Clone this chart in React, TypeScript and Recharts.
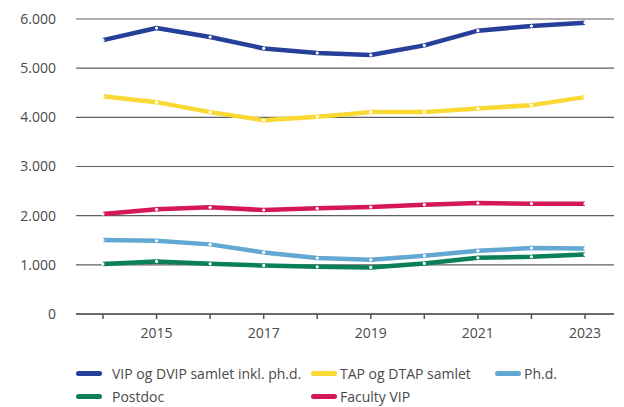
import { CartesianGrid, Line, LineChart, XAxis, YAxis } from "recharts";

const years = ["2014", "2015", "2016", "2017", "2018", "2019", "2020", "2021", "2022", "2023"];
const vipDvip = [5570, 5817, 5634, 5401, 5308, 5267, 5463, 5762, 5858, 5925];
const tapDtap = [4431, 4309, 4106, 3942, 4010, 4106, 4106, 4179, 4248, 4411];
const phd = [1504, 1490, 1416, 1253, 1137, 1102, 1184, 1286, 1341, 1334];
const postdoc = [1015, 1070, 1021, 988, 960, 947, 1029, 1143, 1164, 1212];
const facultyVip = [2033, 2129, 2170, 2115, 2149, 2176, 2223, 2257, 2243, 2243];
const yTicks = [0, 1000, 2000, 3000, 4000, 5000, 6000];

const series = [
  { key: "vip", name: "VIP og DVIP samlet inkl. ph.d.", color: "#263f98", values: vipDvip },
  { key: "tap", name: "TAP og DTAP samlet", color: "#fad935", values: tapDtap },
  { key: "phd", name: "Ph.d.", color: "#62a8d3", values: phd },
  { key: "postdoc", name: "Postdoc", color: "#0b7f59", values: postdoc },
  { key: "faculty", name: "Faculty VIP", color: "#d5175a", values: facultyVip },
];

const data = years.map((year, i) => {
  const row: Record<string, string | number> = { year };
  series.forEach((s) => {
    row[s.key] = s.values[i];
  });
  return row;
});

const font = "'Open Sans', 'Noto Sans', sans-serif";
const textColor = "#4a4a4a";

const formatThousands = (v: number) =>
  v === 0 ? "0" : v.toLocaleString("de-DE");

// legend sits under the chart, 3 columns like the print version
function ChartLegend() {
  const cols = [76, 311, 495];
  return (
    <div style={{ position: "absolute", left: 0, top: 364, width: 624, height: 46, fontFamily: font, fontSize: 14, color: textColor }}>
      {series.map((s, i) => (
        <div
          key={s.key}
          style={{
            position: "absolute",
            left: cols[i % 3],
            top: i < 3 ? 0 : 23,
            display: "flex",
            alignItems: "center",
            whiteSpace: "nowrap",
          }}
        >
          <span
            style={{
              display: "inline-block",
              width: 26,
              height: 5,
              borderRadius: 3,
              background: s.color,
              marginRight: i % 3 === 0 ? 10 : 3,
            }}
          />
          <span>{s.name}</span>
        </div>
      ))}
    </div>
  );
}

export default function App() {
  return (
    <div style={{ position: "absolute", left: 0, top: 0, width: 624, height: 407, background: "#fff" }}>
      <LineChart
        width={624}
        height={407}
        data={data}
        margin={{ top: 19, right: 10, bottom: 50, left: 0 }}
      >
        <CartesianGrid vertical={false} stroke="#5f5f5f" strokeWidth={1.2} />
        <XAxis
          dataKey="year"
          padding={{ left: 27, right: 29 }}
          interval={0}
          tickFormatter={(v: string, i: number) => (i % 2 === 1 ? v : "")}
          stroke="#555"
          strokeWidth={1.5}
          tickSize={5}
          tickMargin={9}
          tick={{ fill: textColor, fontSize: 14, fontFamily: font }}
          height={43}
        />
        <YAxis
          domain={[0, 6000]}
          ticks={yTicks}
          width={76}
          axisLine={false}
          tickLine={false}
          tickSize={0}
          tickMargin={20}
          tickFormatter={formatThousands}
          tick={{ fill: textColor, fontSize: 14, fontFamily: font }}
        />
        {series.map((s) => (
          <Line
            key={s.key}
            dataKey={s.key}
            name={s.name}
            type="linear"
            stroke={s.color}
            strokeWidth={4.5}
            strokeLinejoin="round"
            dot={{ r: 1.6, fill: "#fff", stroke: "none" }}
            activeDot={false}
            isAnimationActive={false}
          />
        ))}
      </LineChart>
      <ChartLegend />
    </div>
  );
}
